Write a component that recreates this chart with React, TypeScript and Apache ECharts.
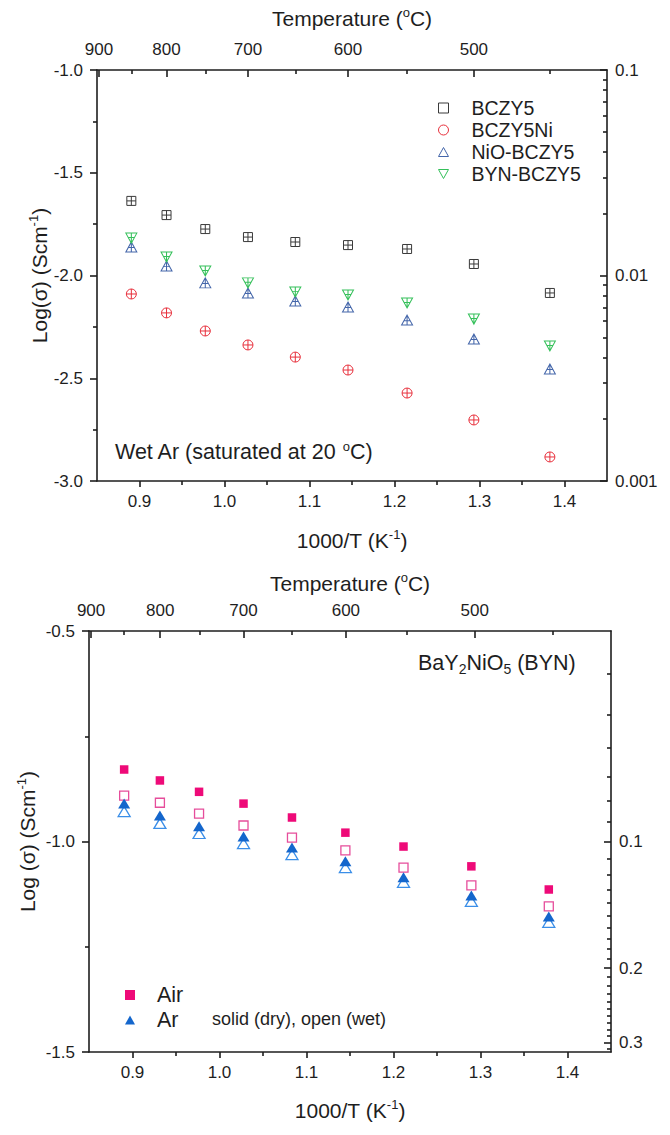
import React, { useEffect, useRef } from "react";
import * as echarts from "echarts";

// ---------- data (top chart: wet Ar) ----------
const xTop = [0.8904, 0.9318, 0.9774, 1.0276, 1.0833, 1.1453, 1.2148, 1.2934, 1.3828];
const bczy5 = [-1.637, -1.706, -1.774, -1.813, -1.837, -1.852, -1.871, -1.944, -2.085];
const bczy5Ni = [-2.09, -2.182, -2.27, -2.338, -2.397, -2.46, -2.572, -2.703, -2.883];
const nioBczy5 = [-1.861, -1.954, -2.036, -2.085, -2.124, -2.153, -2.217, -2.309, -2.455];
const bynBczy5 = [-1.818, -1.91, -1.978, -2.036, -2.08, -2.095, -2.134, -2.212, -2.343];

// ---------- data (bottom chart: BaY2NiO5) ----------
const xBottom = [0.8904, 0.9315, 0.9765, 1.0276, 1.0833, 1.1447, 1.2115, 1.2895, 1.3785];
const airDry = [-0.829, -0.855, -0.882, -0.91, -0.943, -0.979, -1.012, -1.059, -1.114];
const airWet = [-0.891, -0.908, -0.934, -0.962, -0.991, -1.021, -1.062, -1.104, -1.154];
const arDry = [-0.91, -0.938, -0.964, -0.988, -1.014, -1.047, -1.085, -1.128, -1.178];
const arWet = [-0.929, -0.957, -0.981, -1.005, -1.031, -1.062, -1.097, -1.142, -1.192];

// ---------- ticks ----------
const xTickLabels = [0.9, 1.0, 1.1, 1.2, 1.3, 1.4];
const xMinorTicks = [0.95, 1.05, 1.15, 1.25, 1.35];
const tempMajor = [900, 800, 700, 600, 500];
const tempMinor = [850, 750, 650, 550, 450];
const topRightLabels = [0.1, 0.01, 0.001];
const topRightMinor = [0.09, 0.08, 0.07, 0.06, 0.05, 0.04, 0.03, 0.02, 0.009, 0.008, 0.007, 0.006, 0.005, 0.004, 0.003, 0.002];
const bottomRightLabels = [0.1, 0.2, 0.3];
const bottomRightMinor = [0.04, 0.05, 0.06, 0.07, 0.08, 0.09, 0.11, 0.12, 0.13, 0.14, 0.15, 0.16, 0.17, 0.18, 0.19, 0.21, 0.22, 0.23, 0.24, 0.25, 0.26, 0.27, 0.28, 0.29, 0.31];

const FONT = "'Liberation Sans', Arial, sans-serif";
const INK = "#1e1e1e";

const SYM_SQ_CROSS = "path://M0,0L10,0L10,10L0,10Z M5,0L5,10 M0,5L10,5";
const SYM_CI_CROSS = "path://M0,5A5,5,0,1,1,10,5A5,5,0,1,1,0,5Z M5,0L5,10 M0,5L10,5";
const SYM_TU_CROSS = "path://M5,0L10,9L0,9Z M5,0L5,9 M2.2,5L7.8,5";
const SYM_TD_CROSS = "path://M0,0L10,0L5,9Z M5,0L5,9 M2.2,4L7.8,4";
const ICON_SQ = "path://M0,0L10,0L10,10L0,10Z";
const ICON_CI = "path://M0,5A5,5,0,1,1,10,5A5,5,0,1,1,0,5Z";
const ICON_TU = "path://M5,0L10,9L0,9Z";
const ICON_TD = "path://M0,0L10,0L5,9Z";

const C_BCZY5 = "#3a3a3a";
const C_NI = "#e8303c";
const C_NIO = "#4466aa";
const C_BYN = "#35c05a";
const C_AIR = "#ee0a78";
const C_AIR_W = "#e64d9b";
const C_AR = "#1466cc";
const C_AR_W = "#3a8ee8";

const toT = (t: number) => 1000 / (t + 273.15);
const fromT = (v: number) => String(Math.round(1000 / v - 273.15));
const topRightMap = (s: number) => Math.log10(s);
const bottomRightMap = (r: number) => -2 - Math.log10(r);

const pairs = (xs: number[], ys: number[]) => xs.map((x, i) => [x, ys[i]]);

const sup = { fontSize: 13, verticalAlign: "top", lineHeight: 13, fontFamily: FONT, color: INK };
const sub = { fontSize: 14, verticalAlign: "bottom", lineHeight: 14, fontFamily: FONT, color: INK };

const lineStyle = { color: INK, width: 1.6 };
const labelStyle = { fontSize: 17, color: INK, fontFamily: FONT };
const nameStyle = (size: number) => ({
  fontSize: size,
  color: INK,
  fontFamily: FONT,
  lineHeight: 24,
  rich: { sup },
});

function lookupLabel(v: number, labels: number[], map: (x: number) => number) {
  for (const l of labels) if (Math.abs(map(l) - v) < 1e-6) return String(l);
  return "";
}

function bottomAxes(grid: number, name: string, nameGap: number) {
  return [
    {
      type: "value",
      gridIndex: grid,
      position: "bottom",
      min: 0.85,
      max: 1.45,
      name,
      nameLocation: "middle",
      nameGap,
      nameMoveOverlap: false,
      nameTextStyle: nameStyle(21),
      axisLine: { show: true, onZero: false, lineStyle },
      axisTick: { show: true, inside: false, length: 6, customValues: xTickLabels, lineStyle },
      axisLabel: { show: true, margin: 12, customValues: xTickLabels, formatter: (v: number) => v.toFixed(1), ...labelStyle },
      splitLine: { show: false },
    },
    {
      type: "value",
      gridIndex: grid,
      position: "bottom",
      min: 0.85,
      max: 1.45,
      axisLine: { show: false, onZero: false },
      axisTick: { show: true, inside: false, length: 4, customValues: xMinorTicks, lineStyle },
      axisLabel: { show: false },
      splitLine: { show: false },
    },
  ];
}

function topAxes(grid: number, nameGap: number) {
  return [
    {
      type: "value",
      gridIndex: grid,
      position: "top",
      min: 0.85,
      max: 1.45,
      name: "Temperature ({sup|o}C)",
      nameLocation: "middle",
      nameGap,
      nameMoveOverlap: false,
      nameTextStyle: nameStyle(21),
      axisLine: { show: true, onZero: false, lineStyle },
      axisTick: { show: true, inside: true, length: 7, customValues: tempMajor.map(toT), lineStyle },
      axisLabel: { show: true, margin: 12, customValues: tempMajor.map(toT), formatter: fromT, ...labelStyle },
      splitLine: { show: false },
    },
    {
      type: "value",
      gridIndex: grid,
      position: "top",
      min: 0.85,
      max: 1.45,
      axisLine: { show: false, onZero: false },
      axisTick: { show: true, inside: true, length: 4, customValues: tempMinor.map(toT), lineStyle },
      axisLabel: { show: false },
      splitLine: { show: false },
    },
  ];
}

function rightAxes(grid: number, min: number, max: number, labels: number[], minor: number[], map: (x: number) => number) {
  const major = labels.map(map);
  return [
    {
      type: "value",
      gridIndex: grid,
      position: "right",
      min,
      max,
      axisLine: { show: true, onZero: false, lineStyle },
      axisTick: { show: true, inside: true, length: 7, customValues: major, lineStyle },
      axisLabel: {
        show: true,
        margin: 8,
        customValues: major,
        formatter: (v: number) => lookupLabel(v, labels, map),
        ...labelStyle,
      },
      splitLine: { show: false },
    },
    {
      type: "value",
      gridIndex: grid,
      position: "right",
      min,
      max,
      axisLine: { show: false, onZero: false },
      axisTick: { show: true, inside: true, length: 4, customValues: minor.map(map), lineStyle },
      axisLabel: { show: false },
      splitLine: { show: false },
    },
  ];
}

function leftAxis(grid: number, min: number, max: number, name: string, nameGap: number) {
  return {
    type: "value",
    gridIndex: grid,
    position: "left",
    min,
    max,
    interval: 0.5,
    name,
    nameLocation: "middle",
    nameGap,
    nameMoveOverlap: false,
    nameTextStyle: nameStyle(21),
    axisLine: { show: true, onZero: false, lineStyle },
    axisTick: { show: true, inside: false, length: 7, lineStyle },
    minorTick: { show: true, splitNumber: 2, length: 4, lineStyle },
    axisLabel: { show: true, margin: 14, formatter: (v: number) => v.toFixed(1), ...labelStyle },
    splitLine: { show: false },
    minorSplitLine: { show: false },
  };
}

function hollow(name: string, data: number[][], symbol: string, size: number | number[], color: string, xi: number, yi: number, bw = 1) {
  return {
    type: "scatter",
    name,
    xAxisIndex: xi,
    yAxisIndex: yi,
    data,
    symbol,
    symbolSize: size,
    itemStyle: { color: "rgba(0,0,0,0)", borderColor: color, borderWidth: bw, opacity: 1 },
    emphasis: { disabled: true },
  };
}

function filled(name: string, data: number[][], symbol: string, size: number | number[], color: string, xi: number, yi: number) {
  return {
    type: "scatter",
    name,
    xAxisIndex: xi,
    yAxisIndex: yi,
    data,
    symbol,
    symbolSize: size,
    itemStyle: { color, opacity: 1 },
    emphasis: { disabled: true },
  };
}

function buildOption() {
  return {
    animation: false,
    textStyle: { fontFamily: FONT },
    grid: [
      { left: 97, top: 70, width: 510, height: 411, outerBoundsMode: "none", containLabel: false },
      { left: 89, top: 631, width: 522, height: 421, outerBoundsMode: "none", containLabel: false },
    ],
    xAxis: [
      ...bottomAxes(0, "1000/T (K{sup|-1})", 47),
      ...topAxes(0, 40),
      ...bottomAxes(1, "1000/T (K{sup|-1})", 46),
      ...topAxes(1, 36),
    ],
    yAxis: [
      leftAxis(0, -3, -1, "Log(σ) (Scm{sup|-1})", 46),
      ...rightAxes(0, -3, -1, topRightLabels, topRightMinor, topRightMap),
      leftAxis(1, -1.5, -0.5, "Log (σ) (Scm{sup|-1})", 50),
      ...rightAxes(1, -1.5, -0.5, bottomRightLabels, bottomRightMinor, bottomRightMap),
    ],
    legend: [
      {
        orient: "vertical",
        left: 438,
        top: 98,
        padding: 0,
        itemWidth: 10,
        itemHeight: 10,
        itemGap: 2,
        symbolKeepAspect: true,
        selectedMode: false,
        textStyle: { fontSize: 19.5, color: INK, fontFamily: FONT, padding: [0, 0, 0, 18] },
        data: [
          { name: "BCZY5", icon: ICON_SQ, itemStyle: { color: "rgba(0,0,0,0)", borderColor: C_BCZY5, borderWidth: 1 } },
          { name: "BCZY5Ni", icon: ICON_CI, itemStyle: { color: "rgba(0,0,0,0)", borderColor: C_NI, borderWidth: 1 } },
          { name: "NiO-BCZY5", icon: ICON_TU, itemStyle: { color: "rgba(0,0,0,0)", borderColor: C_NIO, borderWidth: 1 } },
          { name: "BYN-BCZY5", icon: ICON_TD, itemStyle: { color: "rgba(0,0,0,0)", borderColor: C_BYN, borderWidth: 1 } },
        ],
      },
      {
        orient: "vertical",
        left: 125,
        top: 984,
        padding: 0,
        itemWidth: 10,
        itemHeight: 10,
        itemGap: 3,
        symbolKeepAspect: true,
        selectedMode: false,
        textStyle: { fontSize: 21.5, color: INK, fontFamily: FONT, padding: [0, 0, 0, 17] },
        data: [
          { name: "Air", icon: ICON_SQ, itemStyle: { color: C_AIR } },
          { name: "Ar", icon: ICON_TU, itemStyle: { color: C_AR } },
        ],
      },
    ],
    series: [
      hollow("BCZY5", pairs(xTop, bczy5), SYM_SQ_CROSS, 9, C_BCZY5, 0, 0),
      hollow("BCZY5Ni", pairs(xTop, bczy5Ni), SYM_CI_CROSS, 10, C_NI, 0, 0),
      hollow("NiO-BCZY5", pairs(xTop, nioBczy5), SYM_TU_CROSS, [11, 10], C_NIO, 0, 0),
      hollow("BYN-BCZY5", pairs(xTop, bynBczy5), SYM_TD_CROSS, [11, 10], C_BYN, 0, 0),
      hollow("Air (wet)", pairs(xBottom, airWet), ICON_SQ, 9, C_AIR_W, 4, 3, 1.3),
      filled("Air", pairs(xBottom, airDry), ICON_SQ, 8.5, C_AIR, 4, 3),
      hollow("Ar (wet)", pairs(xBottom, arWet), ICON_TU, [12, 10], C_AR_W, 4, 3, 1.3),
      filled("Ar", pairs(xBottom, arDry), ICON_TU, [12, 10], C_AR, 4, 3),
    ],
    graphic: [
      {
        type: "text",
        left: 115,
        top: 440,
        style: {
          text: "Wet Ar (saturated at 20 {sup|o}C)",
          fontSize: 21.5,
          lineHeight: 24,
          fill: INK,
          fontFamily: FONT,
          rich: { sup },
        },
      },
      {
        type: "text",
        left: 418,
        top: 649,
        style: {
          text: "BaY{sub|2}NiO{sub|5} (BYN)",
          fontSize: 21.5,
          lineHeight: 27,
          fill: INK,
          fontFamily: FONT,
          rich: { sub },
        },
      },
      {
        type: "text",
        left: 212,
        top: 1010,
        style: {
          text: "solid (dry), open (wet)",
          fontSize: 18,
          fill: INK,
          fontFamily: FONT,
        },
      },
    ],
  };
}

export default function App() {
  const ref = useRef<HTMLDivElement | null>(null);
  useEffect(() => {
    if (!ref.current) return;
    const chart = echarts.init(ref.current, null, { renderer: "svg" });
    chart.setOption(buildOption() as any);
    return () => chart.dispose();
  }, []);
  return (
    <div
      ref={ref}
      style={{ position: "absolute", left: 0, top: 0, width: 670, height: 1135, background: "#fff" }}
    />
  );
}
